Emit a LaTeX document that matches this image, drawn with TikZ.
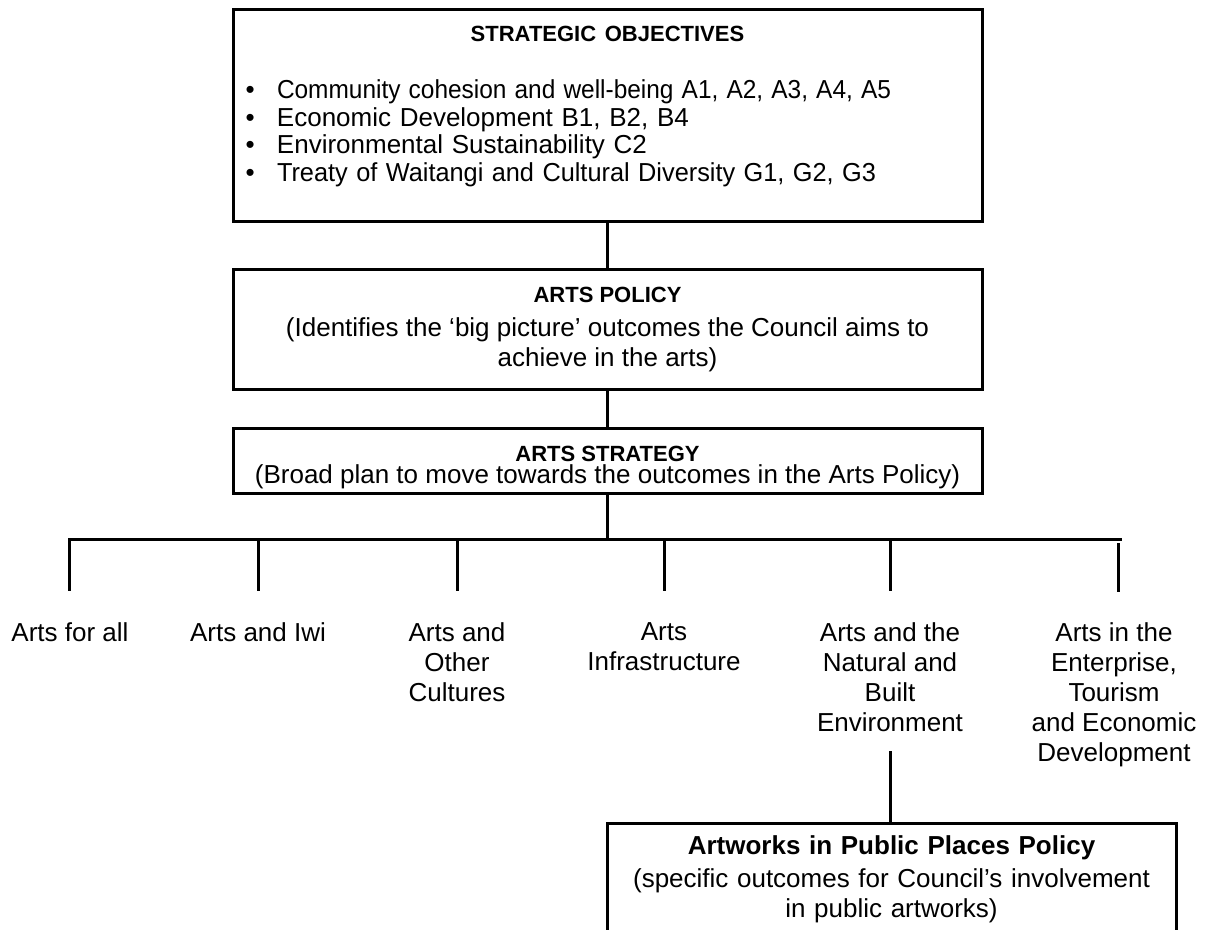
\documentclass[tikz,border=0pt]{standalone}
\usepackage{fontspec}
\usepackage{graphicx}
\setmainfont{Liberation Sans}
\usetikzlibrary{positioning}
\setlength{\parindent}{0pt}
\newcommand{\bodyfont}{\fontsize{13}{15}\selectfont}
\newcommand{\objfont}{\fontsize{13}{13.8}\selectfont}
\newcommand{\headfont}{\fontsize{11}{13}\selectfont\bfseries}
\newcommand{\objitem}{\makebox[15.75pt][l]{\textbullet}}
\tikzset{
  frame/.style={draw, line width=1.5pt, inner sep=0pt, align=center, font=\bodyfont},
  branch/.style={anchor=north, inner sep=0pt, align=center, font=\bodyfont},
  link/.style={line width=1.5pt, line cap=rect},
}
\begin{document}
\begin{tikzpicture}[x=0.5pt,y=-0.5pt]
                \clip (0,0) rectangle (1214,930);
                % the three boxes at the top
                \node[frame, minimum width=374.5pt, minimum height=106pt, inner xsep=6.25pt,
                      text width=362pt, align=left, font=\objfont]
                      (objectives) at (607.5,116) {{\centering\headfont STRATEGIC OBJECTIVES\par}
                      \vspace{14.7pt}
                      \objitem\scalebox{0.94}[1]{Community cohesion and well-being A1, A2, A3, A4, A5}\par
                      \objitem Economic Development B1, B2, B4\par
                      \objitem Environmental Sustainability C2\par
                      \objitem\scalebox{0.974}[1]{Treaty of Waitangi and Cultural Diversity G1, G2, G3}\rule[-12.2pt]{0pt}{0pt}};
                \node[frame, minimum width=374.5pt, minimum height=59.5pt] (policy) at (607.5,329.5)
                      {{\headfont ARTS POLICY}\\[1.75pt] (Identifies the `big picture' outcomes the Council aims to\\ achieve in the arts)};
                \node[frame, minimum width=374.5pt, minimum height=32.5pt] (strategy) at (607.5,460.5)
                      {\rule{0pt}{14.4pt}{\headfont ARTS STRATEGY}\\[-4pt] (Broad plan to move towards the outcomes in the Arts Policy)};
                \draw[link] (objectives.south) -- (policy.north);
                \draw[link] (policy.south) -- (strategy.north);
                % the six branches
                \coordinate (barwest) at (69,539.5);
                \coordinate (bareast) at (1120.5,539.5);
                \node[branch] (forall) at (70,622) {Arts for all};
                \node[branch] (iwi) at (258,622) {Arts and Iwi};
                \node[branch] (cultures) at (457,622) {Arts and\\ Other\\ Cultures};
                \node[branch] (infra) at (664,622) {Arts\\ Infrastructure};
                \node[branch] (natural) at (890,622) {Arts and the\\ Natural and\\ Built\\ Environment};
                \node[branch] (enterprise) at (1114,622) {Arts in the\\ Enterprise,\\ Tourism\\ and Economic\\ Development};
                \draw[link] (strategy.south) -- (strategy.south |- barwest);
                \draw[link] (barwest) -- (bareast);
                \foreach \n/\x in {forall/69,iwi/258,cultures/457,infra/664,natural/890}
                  \draw[link] (\x,539.5) -- (\x,589);
                \draw[line width=1.5pt] (1118,543) -- (1118,592);
                % policy below the natural and built environment
                \node[frame, anchor=north, text width=284.5pt, inner ysep=6.3pt] (artworks) at (891.5,822)
                      {\textbf{Artworks in Public Places Policy}\\[1.5pt] (specific outcomes for Council's involvement\\ in public artworks)};
                \draw[link, shorten <=10.5pt] (natural.south) -- (natural.south |- artworks.north);
\end{tikzpicture}
\end{document}
